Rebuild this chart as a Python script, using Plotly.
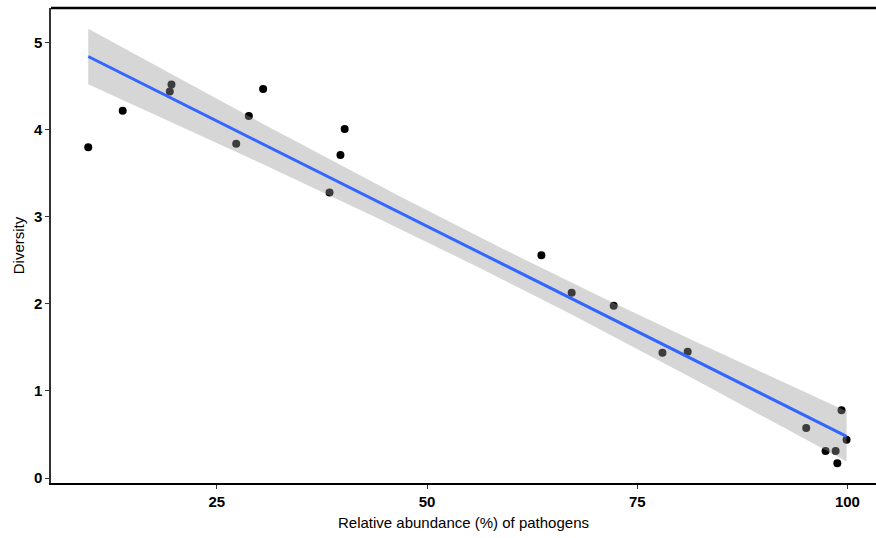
import numpy as np
import plotly.graph_objects as go

# Data
abundance = [9.7, 13.8, 19.6, 19.4, 27.3, 28.8, 30.5, 38.4, 39.7, 40.2,
             63.6, 67.2, 72.2, 78.0, 81.0, 95.1, 99.3, 99.9, 97.4, 98.6, 98.8]
diversity = [3.80, 4.22, 4.52, 4.44, 3.84, 4.16, 4.47, 3.28, 3.71, 4.01,
             2.56, 2.13, 1.98, 1.44, 1.45, 0.575, 0.78, 0.44, 0.31, 0.31, 0.17]
x_ticks = [25, 50, 75, 100]
y_ticks = [0, 1, 2, 3, 4, 5]

# Linear fit with 95% confidence band (as geom_smooth(method="lm"))
x = np.array(abundance)
y = np.array(diversity)
n = len(x)
b1, b0 = np.polyfit(x, y, 1)
resid = y - (b0 + b1 * x)
s = np.sqrt(np.sum(resid ** 2) / (n - 2))
xs = np.linspace(x.min(), x.max(), 80)
ys = b0 + b1 * xs
se = s * np.sqrt(1 / n + (xs - x.mean()) ** 2 / np.sum((x - x.mean()) ** 2))
t = 2.093  # t(0.975, df=19)
lo = ys - t * se
hi = ys + t * se

fig = go.Figure()
fig.add_trace(go.Scatter(x=x, y=y, mode="markers",
                         marker=dict(color="black", size=8), showlegend=False))
fig.add_trace(go.Scatter(x=np.concatenate([xs, xs[::-1]]),
                         y=np.concatenate([hi, lo[::-1]]),
                         fill="toself", fillcolor="rgba(153,153,153,0.4)",
                         line=dict(width=0), mode="lines", showlegend=False,
                         hoverinfo="skip"))
fig.add_trace(go.Scatter(x=xs, y=ys, mode="lines",
                         line=dict(color="#3366FF", width=3), showlegend=False))

tickfont = dict(family="Liberation Sans Narrow, Arial Narrow, Liberation Sans, Arial",
                size=15, color="black", weight="bold")
fig.update_layout(
    width=876, height=538,
    margin=dict(l=51, r=0, t=8, b=55),
    plot_bgcolor="white", paper_bgcolor="white",
    xaxis=dict(range=[5.27, 103.4], tickvals=x_ticks, ticks="outside", ticklen=4,
               tickcolor="#333333", tickwidth=1, showgrid=False, zeroline=False,
               showline=True, linecolor="black", linewidth=2, automargin=False,
               tickfont=tickfont,
               title=dict(text="Relative abundance (%) of pathogens", standoff=8,
                          font=dict(family="Liberation Sans, Arial", size=15, color="black"))),
    yaxis=dict(range=[-0.057, 5.40], tickvals=y_ticks, ticks="outside", ticklen=4,
               tickcolor="#333333", tickwidth=1, showgrid=False, zeroline=False,
               showline=True, linecolor="#333333", linewidth=1.5, automargin=False,
               tickfont=tickfont,
               title=dict(text="Diversity", standoff=6,
                          font=dict(family="Liberation Sans, Arial", size=15, color="black"))),
    shapes=[dict(type="line", xref="paper", yref="paper", x0=0, x1=1, y0=1, y1=1,
                 line=dict(color="black", width=2.5))],
)
fig.write_html("out.html", config={"displayModeBar": False},
               post_script="document.body.style.margin='0';document.body.style.overflow='hidden';")
